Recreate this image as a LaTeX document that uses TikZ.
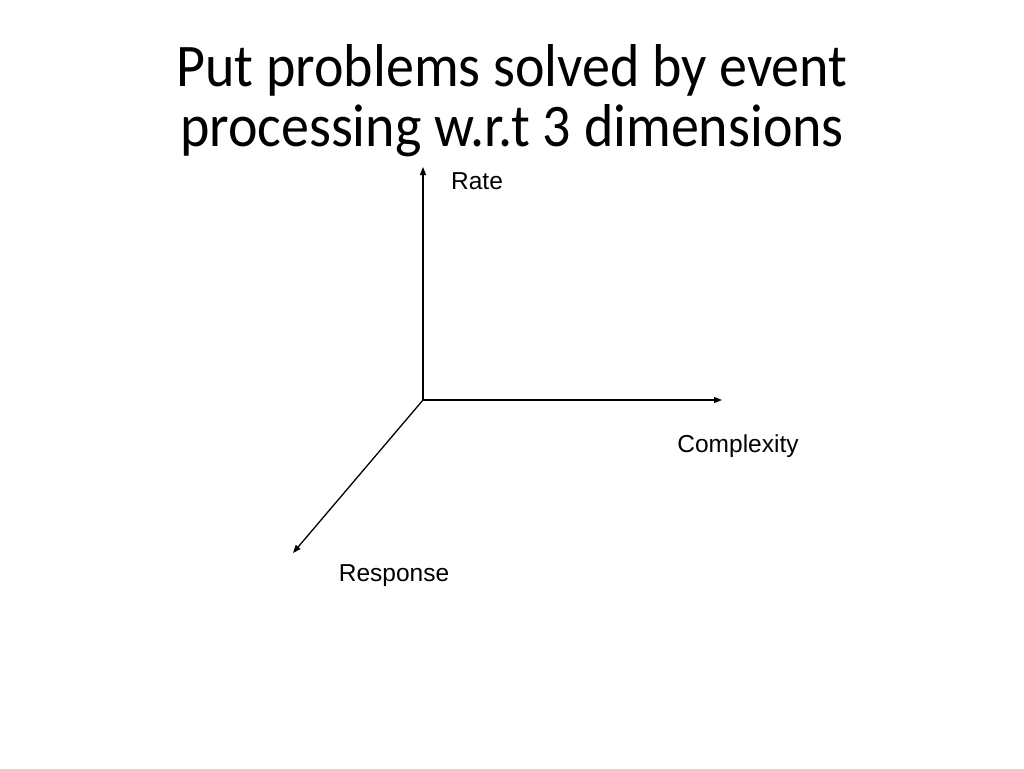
\documentclass[tikz,border=0pt]{standalone}
\usepackage{fontspec}
\setmainfont{Liberation Sans}
\newfontfamily\titlefont{Carlito}
\usetikzlibrary{arrows.meta}
\begin{document}
\begin{tikzpicture}[x=1pt,y=-1pt,
  axis/.style={line width=1.3pt,-{Triangle[length=8pt,width=6pt]}},
  lbl/.style={font=\fontsize{24.5}{28}\selectfont,inner sep=0pt},
  ttl/.style={font=\titlefont\fontsize{56}{58}\selectfont,inner sep=0pt,anchor=base}]
\useasboundingbox[fill=white] (0,0) rectangle (1024,768);
\node[ttl] (t1) at (512,86) {\scalebox{1}[1.08]{Put problems solved by event}};
\node[ttl] (t2) at (512,146) {\scalebox{1}[1.08]{processing w.r.t 3 dimensions}};
\coordinate (o) at (423,400);
\coordinate (up) at (423,167);
\coordinate (right) at (722,400);
\coordinate (down) at (293,553);
\draw[axis] (o) -- (up);
\draw[axis] (o) -- (right);
\draw[axis] (o) -- (down);
\node[lbl] (rate) at (477,181) {Rate};
\node[lbl] (cx) at (738,446) {Complexity};
\node[lbl] (resp) at (394,576) {Response};
\end{tikzpicture}
\end{document}
